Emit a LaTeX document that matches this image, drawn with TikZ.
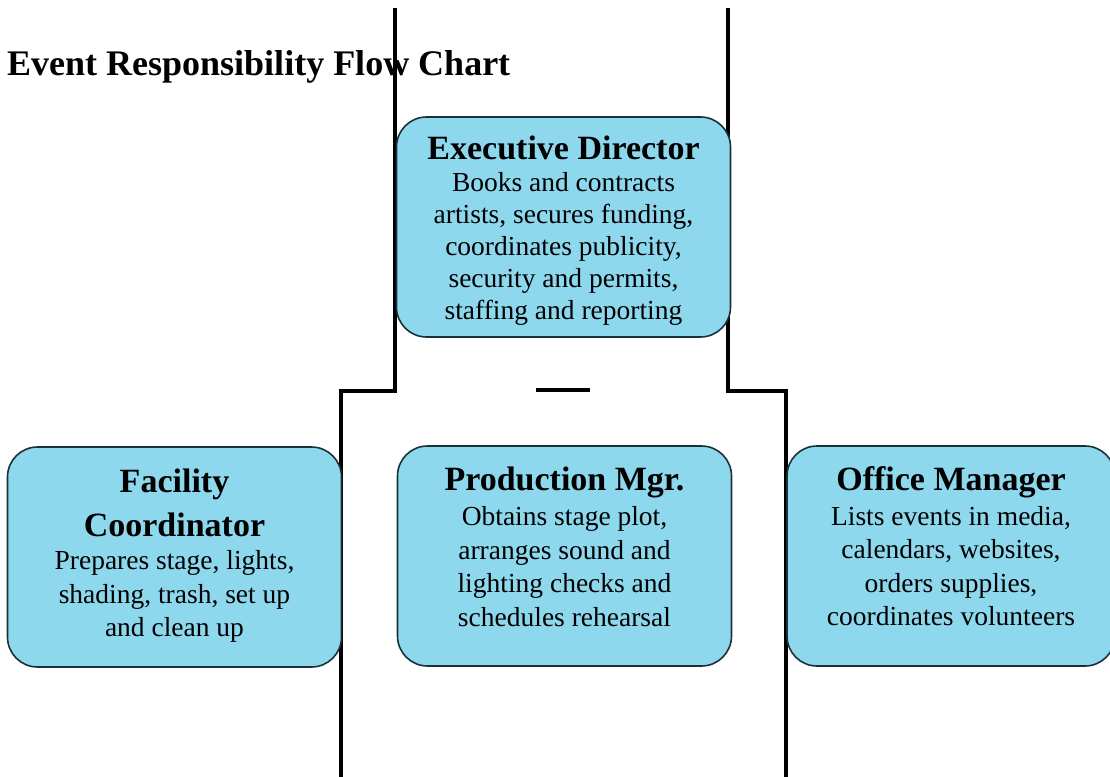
\documentclass[tikz,border=0pt]{standalone}
\usepackage{fontspec}
\setmainfont{Liberation Serif}
\usetikzlibrary{positioning}

\definecolor{roleblue}{RGB}{142,216,238}
\definecolor{roleline}{RGB}{28,48,58}

\tikzset{
  role/.style={draw=roleline, line width=1.6pt, fill=roleblue, rounded corners=30pt,
    minimum width=334pt, minimum height=220pt, inner sep=0pt},
  roletext/.style={inner sep=0pt, align=center, font=\fontsize{27.5}{33.5}\selectfont},
  bar/.style={line width=4pt, draw=black},
}
\newcommand{\rolehead}[1]{{\fontsize{34}{36}\selectfont\bfseries #1}}

\begin{document}
\begin{tikzpicture}[x=1pt, y=-1pt]
        \useasboundingbox (0,0) rectangle (1110,776);

        \node[anchor=base west, inner sep=0pt, font=\fontsize{36}{40}\selectfont\bfseries] (title) at (7,75) {Event Responsibility Flow Chart};

        % frame lines
        \coordinate (ltop) at (395,8);
        \coordinate (lstep) at (395,391);
        \coordinate (lfoot) at (341,391);
        \coordinate (lbot) at (341,778);
        \coordinate (rtop) at (728,8);
        \coordinate (rstep) at (728,391);
        \coordinate (rfoot) at (786,391);
        \coordinate (rbot) at (786,778);
        \coordinate (dashl) at (536,390);
        \coordinate (dashr) at (590,390);

        \draw[bar] (ltop) -- (lstep) -- (lfoot) -- (lbot);
        \draw[bar] (rtop) -- (rstep) -- (rfoot) -- (rbot);
        \draw[bar] (dashl) -- (dashr);

        % boxes
        \node[role] at (563.5,227)(exec){};
        \node[role] at (174.5,557)(facility){};
        \node[role] at (564.5,556)(prod){};
        \node[role, minimum width=328pt] at (951,556)(office){};

        % box texts
        \node[roletext, font=\fontsize{27.5}{32}\selectfont, below=20pt of exec.north](exectext){\rolehead{Executive Director}\\Books and contracts\\artists, secures funding,\\coordinates publicity,\\security and permits,\\staffing and reporting};
        \node[roletext, below=23pt of facility.north](facilitytext){\rolehead{Facility}\\[10pt]\rolehead{Coordinator}\\Prepares stage, lights,\\shading, trash, set up\\and clean up};
        \node[roletext, below=22pt of prod.north](prodtext){\rolehead{Production Mgr.}\\[1.5pt]Obtains stage plot,\\arranges sound and\\lighting checks and\\schedules rehearsal};
        \node[roletext, below=21pt of office.north](officetext){\rolehead{Office Manager}\\[1.5pt]Lists events in media,\\calendars, websites,\\orders supplies,\\coordinates volunteers};
    \end{tikzpicture}
\end{document}
